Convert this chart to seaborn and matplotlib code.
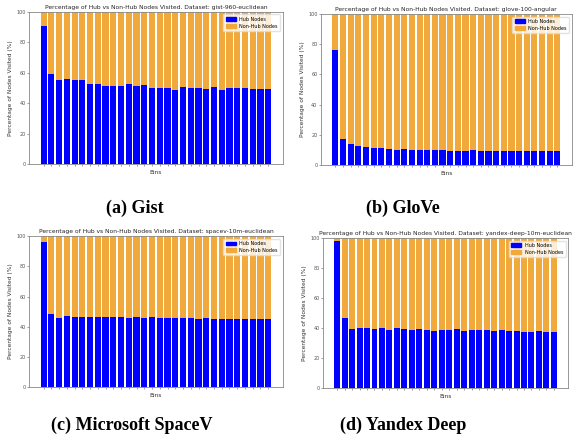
import numpy as np
import pandas as pd
import matplotlib
matplotlib.use('Agg')
import matplotlib.pyplot as plt
import seaborn as sns
from matplotlib.patches import Patch

# Percentage of hub nodes visited per bin
gist_hub = [91, 59, 55.5, 56.2, 55, 55, 52.3, 52.3, 51, 51, 51.5, 52.6, 51.5, 52,
            50, 50, 50.2, 49, 50.7, 50, 50.2, 49.5, 50.5, 49, 50.2, 50, 50.2, 49.2, 49.5, 49.5]
glove_hub = [76.5, 17.5, 14, 12.5, 12, 11.5, 11, 10.7, 10.2, 10.4, 9.7, 10, 10, 9.6,
             9.6, 9.5, 9.5, 9.5, 9.8, 9.4, 9.5, 9.5, 9.3, 9.3, 9.4, 9.3, 9.4, 9.4, 9.3, 9.1]
spacev_hub = [96, 48.2, 45.7, 47, 46.5, 46.6, 46.5, 46.4, 46.3, 46.3, 46.2, 46, 46.4, 45.8,
              46.3, 46, 45.9, 45.6, 45.6, 45.7, 45.3, 45.7, 45.4, 45.4, 45.2, 45.3, 45.2, 45.2, 45, 45]
yandex_hub = [98, 46.7, 39.6, 40.3, 40.2, 39.2, 40.1, 38.9, 40.2, 39.5, 39, 39.1, 38.6, 38,
              38.6, 38.6, 39.2, 38.2, 38.7, 38.6, 38.6, 38.2, 38.6, 37.8, 38.2, 37.7, 37.7, 38.1, 37.6, 37.6]

datasets = ['gist-960-euclidean', 'glove-100-angular', 'spacev-10m-euclidean', 'yandex-deep-10m-euclidean']
captions = ['(a) Gist', '(b) GloVe', '(c) Microsoft SpaceV', '(d) Yandex Deep']
hub_values = [gist_hub, glove_hub, spacev_hub, yandex_hub]

hub_color = '#0000ff'
nonhub_color = '#f2a93b'

fig = plt.figure(figsize=(5.73, 4.41), dpi=100)

# axes rectangles [left, bottom, width, height]
rects = [[0.0506, 0.628, 0.443, 0.345],
         [0.560, 0.626, 0.438, 0.342],
         [0.0506, 0.1224, 0.443, 0.342],
         [0.5637, 0.120, 0.4276, 0.340]]
cap_pos = [(0.2356, 0.528), (0.703, 0.528), (0.2304, 0.036), (0.703, 0.036)]

for i in range(4):
    hub = np.array(hub_values[i])
    nonhub = 100 - hub
    df = pd.DataFrame({'bin': np.arange(len(hub)), 'hub': hub, 'total': hub + nonhub})
    ax = fig.add_axes(rects[i])
    sns.barplot(data=df, x='bin', y='total', color=nonhub_color, saturation=1, ax=ax, width=0.8)
    sns.barplot(data=df, x='bin', y='hub', color=hub_color, saturation=1, ax=ax, width=0.8)
    n = len(hub)
    pad = (n - 0.2) * 0.05
    ax.set_xlim(-0.4 - pad, n - 0.6 + pad)
    ax.set_ylim(0, 100)
    ax.set_xticks(np.arange(n))
    ax.set_xticklabels([])
    ax.set_yticks([0, 20, 40, 60, 80, 100])
    ax.tick_params(axis='both', length=1.5, width=0.4, labelsize=3.5, pad=1, colors='#555555')
    ax.set_xlabel('Bins', fontsize=4.2, labelpad=2, color='#333333')
    ax.set_ylabel('Percentage of Nodes Visited (%)', fontsize=4.2, labelpad=2, color='#333333')
    ax.set_title(f'Percentage of Hub vs Non-Hub Nodes Visited. Dataset: {datasets[i]}',
                 fontsize=4.3, pad=2, color='#222222')
    for sp in ax.spines.values():
        sp.set_linewidth(0.6)
        sp.set_color('#888888')
    handles = [Patch(color=hub_color, label='Hub Nodes'),
               Patch(color=nonhub_color, label='Non-Hub Nodes')]
    ax.legend(handles=handles, loc='upper right', fontsize=3.5, frameon=True,
              handlelength=2, handleheight=0.8, borderpad=0.5, labelspacing=0.4,
              fancybox=True, framealpha=0.8, edgecolor='#dddddd')
    fig.text(cap_pos[i][0], cap_pos[i][1], captions[i], ha='center', va='center',
             fontsize=13, fontweight='bold', family='Liberation Serif')

fig.savefig('out.png', dpi=100)
